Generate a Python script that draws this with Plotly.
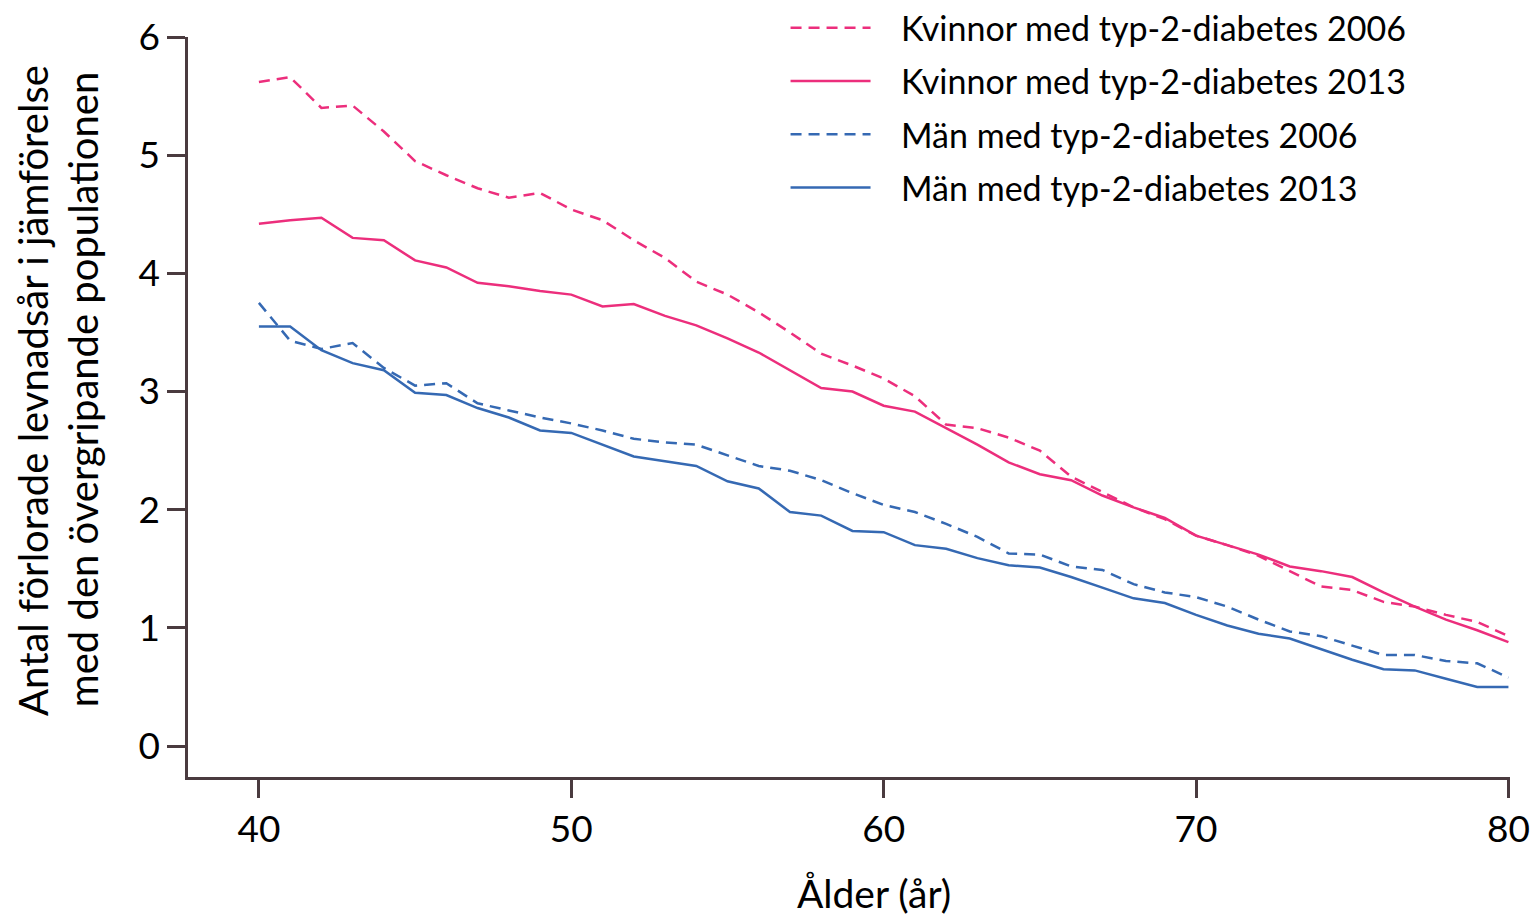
import plotly.graph_objects as go

ages = list(range(40, 81))

women_2006 = [5.62, 5.66, 5.40, 5.42, 5.20, 4.95, 4.83, 4.72, 4.64, 4.68,
              4.54, 4.45, 4.28, 4.13, 3.93, 3.82, 3.67, 3.50, 3.32, 3.22,
              3.11, 2.96, 2.72, 2.69, 2.61, 2.50, 2.28, 2.15, 2.02, 1.92,
              1.78, 1.70, 1.61, 1.48, 1.35, 1.32, 1.22, 1.18, 1.11, 1.05, 0.93]
women_2013 = [4.42, 4.45, 4.47, 4.30, 4.28, 4.11, 4.05, 3.92, 3.89, 3.85,
              3.82, 3.72, 3.74, 3.64, 3.56, 3.45, 3.33, 3.18, 3.03, 3.00,
              2.88, 2.83, 2.69, 2.55, 2.40, 2.30, 2.25, 2.12, 2.02, 1.93,
              1.78, 1.70, 1.62, 1.52, 1.48, 1.43, 1.30, 1.18, 1.07, 0.98, 0.88]
men_2006 = [3.75, 3.43, 3.36, 3.41, 3.20, 3.05, 3.07, 2.90, 2.84, 2.78,
            2.73, 2.67, 2.60, 2.57, 2.55, 2.46, 2.37, 2.33, 2.25, 2.14,
            2.04, 1.98, 1.88, 1.77, 1.63, 1.62, 1.52, 1.49, 1.37, 1.30,
            1.26, 1.18, 1.07, 0.97, 0.93, 0.85, 0.77, 0.77, 0.72, 0.70, 0.58]
men_2013 = [3.55, 3.55, 3.35, 3.24, 3.18, 2.99, 2.97, 2.86, 2.78, 2.67,
            2.65, 2.55, 2.45, 2.41, 2.37, 2.24, 2.18, 1.98, 1.95, 1.82,
            1.81, 1.70, 1.67, 1.59, 1.53, 1.51, 1.43, 1.34, 1.25, 1.21,
            1.11, 1.02, 0.95, 0.91, 0.82, 0.73, 0.65, 0.64, 0.57, 0.50, 0.50]

series_names = ["Kvinnor med typ-2-diabetes 2006", "Kvinnor med typ-2-diabetes 2013",
                "Män med typ-2-diabetes 2006", "Män med typ-2-diabetes 2013"]
x_ticks = [40, 50, 60, 70, 80]
y_ticks = [0, 1, 2, 3, 4, 5, 6]
y_title_lines = ["Antal förlorade levnadsår i jämförelse", "med den övergripande populationen"]
x_title = "Ålder (år)"

PINK = "#EC2E7C"
BLUE = "#3569B3"
AXIS = "#4a3b3f"
FONT = "Lato"
PAD = "\u2002\u2005"

fig = go.Figure()
specs = [(women_2006, PINK, "11px,7px"), (women_2013, PINK, "solid"),
         (men_2006, BLUE, "11px,7px"), (men_2013, BLUE, "solid")]
for i, (vals, col, dash) in enumerate(specs):
    fig.add_trace(go.Scatter(x=ages, y=vals, mode="lines", name=PAD + series_names[i],
                             legendgroup=f"g{i}",
                             line=dict(color=col, width=2.5, dash=dash)))

axis_style = dict(showgrid=False, zeroline=False,
                  showline=True, linecolor=AXIS, linewidth=2.5,
                  ticks="outside", ticklen=18, tickwidth=2.5, tickcolor=AXIS,
                  ticklabeloverflow="allow",
                  tickfont=dict(family=FONT, size=37, color="black"))

fig.update_layout(
    width=1530, height=915,
    margin=dict(l=188, r=20, t=37, b=138, autoexpand=False),
    plot_bgcolor="white", paper_bgcolor="white",
    font=dict(family=FONT, size=34, color="black"),
    showlegend=True,
    legend=dict(x=0.452, y=1.051, xanchor="left", yanchor="top",
                font=dict(family=FONT, size=34, color="black"),
                itemwidth=80, tracegroupgap=6, bgcolor="rgba(0,0,0,0)"),
    xaxis=dict(range=[37.73, 80.05], tickvals=x_ticks, **axis_style),
    yaxis=dict(range=[-0.262, 6], tickvals=y_ticks, **axis_style),
)

fig.add_annotation(text=x_title, xref="x", yref="paper", x=59.7, y=-0.157,
                   xanchor="center", yanchor="middle", showarrow=False,
                   font=dict(family=FONT, size=39, color="black"))
for line_text, xp in zip(y_title_lines, [-0.1173, -0.0793]):
    fig.add_annotation(text=line_text, xref="paper", yref="paper", x=xp, y=0.523,
                       textangle=-90, xanchor="center", yanchor="middle", showarrow=False,
                       font=dict(family=FONT, size=40, color="black"))

fig.write_html("out.html", config={"displayModeBar": False},
               post_script="document.body.style.margin='0';document.body.style.overflow='hidden';")
